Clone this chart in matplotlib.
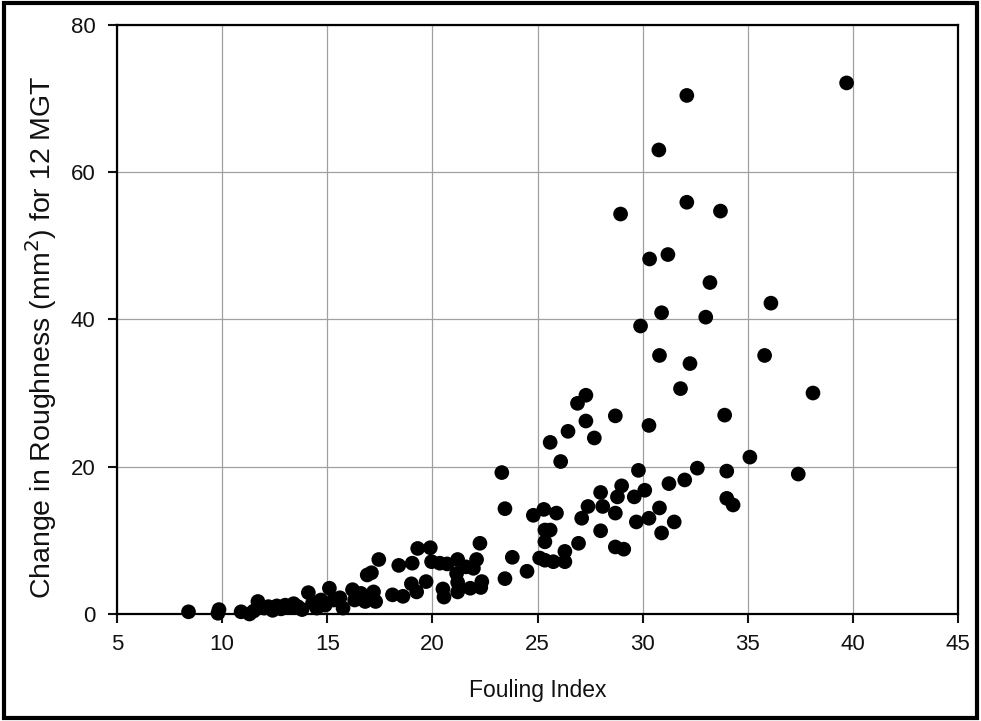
import numpy as np
import matplotlib
matplotlib.use("Agg")
import matplotlib.pyplot as plt
from matplotlib.patches import Rectangle

plt.rcParams["font.family"] = ["Liberation Sans", "DejaVu Sans"]

# fouling index (x) and roughness change (y)
fouling = [
    8.4, 9.85, 9.8, 10.9, 11.3, 11.7, 11.5, 12.0, 12.2, 12.4, 12.6, 12.8, 13.0,
    13.2, 13.4, 13.6, 13.8, 14.1, 14.3, 14.5, 14.7, 14.9, 15.1, 15.3, 15.6, 15.75,
    16.2, 16.3, 16.6, 16.8, 16.9, 17.1, 17.2, 17.3, 17.45, 18.1, 18.4, 18.6, 19.0,
    19.04, 19.25, 19.3, 19.7, 19.9, 19.96, 20.35, 20.5, 20.55, 20.7, 21.15, 21.2,
    21.2, 21.2, 21.6, 21.8, 21.95, 22.1, 22.26, 22.3, 22.35,
    23.3, 23.45, 23.45, 23.8, 24.5, 24.8, 25.1, 25.3, 25.35, 25.35, 25.6, 25.35,
    25.6, 25.75, 25.9, 26.1, 26.3, 26.3, 26.45, 26.9, 26.95, 27.1, 27.3, 27.3,
    27.4, 27.7, 28.0, 28.0, 28.1, 28.7, 28.7, 28.7, 28.8, 28.95, 29.0, 29.1,
    29.6, 29.7, 29.8, 29.9, 30.1, 30.3, 30.3, 30.33, 30.77, 30.8, 30.8, 30.9,
    30.9, 31.2, 31.25, 31.5, 31.8, 32.0, 32.1, 32.1, 32.25, 32.6, 33.0, 33.2,
    33.7, 33.9, 34.0, 34.0, 34.3, 35.1, 35.8, 36.1, 37.4, 38.1, 39.7,
]
roughness = [
    0.3, 0.6, 0.1, 0.3, 0.0, 1.7, 0.4, 0.8, 1.0, 0.5, 1.1, 0.7, 1.2,
    0.9, 1.4, 1.0, 0.6, 2.9, 1.5, 0.8, 1.9, 1.2, 3.5, 1.9, 2.2, 0.8,
    3.3, 1.9, 2.8, 1.7, 5.3, 5.6, 3.0, 1.7, 7.4, 2.6, 6.6, 2.4, 4.1,
    6.9, 3.0, 8.9, 4.4, 9.0, 7.1, 6.9, 3.4, 2.3, 6.8, 5.5, 4.3,
    7.4, 3.0, 6.4, 3.5, 6.2, 7.4, 9.6, 3.6, 4.4,
    19.2, 14.3, 4.8, 7.7, 5.8, 13.4, 7.6, 14.2, 7.3, 11.4, 11.4, 9.8,
    23.3, 7.1, 13.7, 20.7, 8.5, 7.1, 24.8, 28.6, 9.6, 13.0, 29.7, 26.2,
    14.6, 23.9, 16.5, 11.3, 14.6, 26.9, 13.7, 9.1, 15.9, 54.3, 17.4, 8.8,
    15.9, 12.5, 19.5, 39.1, 16.8, 25.6, 13.0, 48.2, 63.0, 14.4, 35.1, 11.0,
    40.9, 48.8, 17.7, 12.5, 30.6, 18.2, 70.4, 55.9, 34.0, 19.8, 40.3, 45.0,
    54.7, 27.0, 19.4, 15.7, 14.8, 21.3, 35.1, 42.2, 19.0, 30.0, 72.1,
]

x_ticks = [5, 10, 15, 20, 25, 30, 35, 40, 45]
y_ticks = [0, 20, 40, 60, 80]

fig = plt.figure(figsize=(9.81, 7.21), dpi=100)
ax = fig.add_axes([0.1193, 0.1484, 0.8573, 0.8173])

ax.scatter(fouling, roughness, s=112, c="black", edgecolors="none",
           zorder=3, clip_on=False)

ax.set_xlim(5, 45)
ax.set_ylim(0, 80)
ax.set_xticks(x_ticks)
ax.set_yticks(y_ticks)
ax.grid(True, color="#a0a0a0", linewidth=0.9, zorder=0)
ax.set_axisbelow(True)
for sp in ax.spines.values():
    sp.set_linewidth(1.6)
    sp.set_color("black")
ax.tick_params(direction="out", length=6.5, width=1.5, labelsize=16,
               colors="#111111")
ax.tick_params(axis="x", pad=8)
ax.tick_params(axis="y", pad=9)

ax.set_xlabel("Fouling Index", fontsize=16.5, color="#111111")
ax.set_ylabel("Change in Roughness (mm$^2$) for 12 MGT", fontsize=20.5,
              color="#111111")
ax.xaxis.set_label_coords(0.5, -0.11)
ax.yaxis.set_label_coords(-0.069, 0.47)

# black frame around the whole picture
fig.patches.append(Rectangle((0.004, 0.004), 0.992, 0.992, transform=fig.transFigure,
                             fill=False, edgecolor="black", linewidth=3))

fig.savefig("out.png", dpi=100)
